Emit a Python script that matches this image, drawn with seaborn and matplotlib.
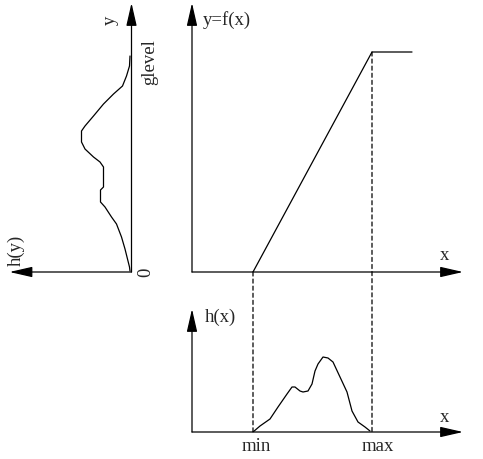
import matplotlib
matplotlib.use("Agg")
import matplotlib.pyplot as plt
from matplotlib.patches import ConnectionPatch
import seaborn as sns

# grey levels of the input image (x) and the stretched output (y)
min_level = 61
max_level = 180
clip_end = 220
glevel = 220

# transfer function y = f(x)
transfer_x = [min_level, max_level, clip_end]
transfer_y = [0, glevel, glevel]

# input histogram h(x)
hist_x_levels = [61, 68, 78, 86, 95, 100, 103, 108, 111, 116, 120, 123,
                 126, 131, 136, 141, 148, 155, 160, 166, 173, 178]
hist_x_counts = [0, 6, 13, 25, 38, 45, 45, 41, 40, 41, 48, 61,
                 68, 75, 74, 70, 55, 40, 21, 10, 5, 1]

# output histogram h(y), drawn sideways
hist_y_levels = [1, 5, 23, 35, 48, 55, 65, 70, 82, 85, 105, 110,
                 115, 123, 130, 141, 146, 156, 168, 178, 186, 196, 206, 216]
hist_y_counts = [1.5, 2, 6.5, 10, 15, 20, 26.5, 31, 31, 28, 28, 31.5,
                 38, 46.5, 50, 50, 46.5, 38, 28, 18, 9, 5, 2, 1.5]

sns.set_theme(style="white")
plt.rcParams['font.family'] = ['Liberation Serif', 'DejaVu Serif']
plt.rcParams['lines.scale_dashes'] = False

W, H = 483, 460
fig = plt.figure(figsize=(W / 100, H / 100), dpi=100, facecolor='white')


def px_axes(left, top, right, bottom):
    ax = fig.add_axes([left / W, 1 - bottom / H, (right - left) / W, (bottom - top) / H])
    ax.set_axis_off()
    return ax


LW = 0.9
FS = 13.5
ARROW = dict(arrowstyle='-|>,head_length=1.4,head_width=0.32', lw=LW, color='black',
             shrinkA=0, shrinkB=0, mutation_scale=10)


def axis_arrow(ax, start, tip):
    ax.annotate('', xy=tip, xytext=start, xycoords='data', arrowprops=ARROW)


# top right: transfer function
ax_f = px_axes(192, 0, 470, 273)
ax_f.set_xlim(0, 278)
ax_f.set_ylim(0, 273)
sns.lineplot(x=transfer_x, y=transfer_y, ax=ax_f, color='black', linewidth=LW,
             estimator=None, sort=False)
axis_arrow(ax_f, (0, 0), (271, 0))
axis_arrow(ax_f, (0, 0), (0, 269))
ax_f.text(11, 253, 'y=f(x)', fontsize=FS, ha='left', va='center')
ax_f.text(253, 18, 'x', fontsize=FS, ha='center', va='center')

# left: output histogram, h grows to the left
ax_y = px_axes(0, 0, 131.5, 273)
ax_y.set_xlim(131.5, 0)
ax_y.set_ylim(0, 273)
sns.lineplot(x=hist_y_counts, y=hist_y_levels, ax=ax_y, color='black', linewidth=LW,
             estimator=None, sort=False)
axis_arrow(ax_y, (0, 0), (122, 0))
axis_arrow(ax_y, (0, 0), (0, 269))
ax_y.text(21.5, 253, 'y', fontsize=FS, rotation=90, ha='center', va='center')
ax_y.text(-18.5, 211, 'glevel', fontsize=FS, rotation=90, ha='center', va='center')
ax_y.text(-14.5, 1, '0', fontsize=FS, rotation=90, ha='center', va='center')
ax_y.text(115.5, 23, 'h(y)', fontsize=FS, rotation=90, ha='center', va='center')

# bottom: input histogram
ax_h = px_axes(192, 300, 470, 433)
ax_h.set_xlim(0, 278)
ax_h.set_ylim(0, 133)
sns.lineplot(x=hist_x_levels, y=hist_x_counts, ax=ax_h, color='black', linewidth=LW,
             estimator=None, sort=False)
axis_arrow(ax_h, (0, 0), (271, 0))
axis_arrow(ax_h, (0, 0), (0, 123))
ax_h.text(13, 116, 'h(x)', fontsize=FS, ha='left', va='center')
ax_h.text(253, 15, 'x', fontsize=FS, ha='center', va='center')
ax_h.text(min_level + 3, -14, 'min', fontsize=FS, ha='center', va='center')
ax_h.text(max_level + 6, -14, 'max', fontsize=FS, ha='center', va='center')

# dashed guides from the transfer function down to the histogram
for xa, ya in [(min_level, 0), (max_level, glevel)]:
    con = ConnectionPatch(xyA=(xa, ya), coordsA='data', axesA=ax_f,
                          xyB=(xa, 0), coordsB='data', axesB=ax_h,
                          color='black', linewidth=LW, linestyle=(0, (2.9, 2.2)))
    fig.add_artist(con)

fig.savefig('out.png', dpi=100, facecolor='white')
